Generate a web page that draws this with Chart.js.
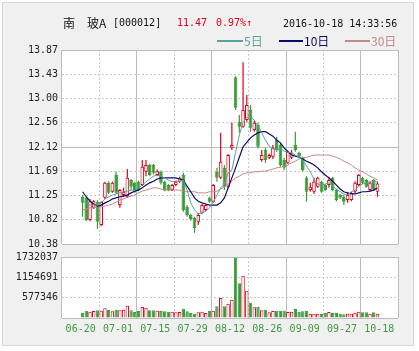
<!DOCTYPE html>
<html>
<head>
<meta charset="utf-8">
<script src="https://cdn.jsdelivr.net/npm/chart.js@4.4.0/dist/chart.umd.min.js"></script>
<style>
  html, body { margin: 0; padding: 0; background: #fff; }
  #frame { position: absolute; left: 2px; top: 2px; width: 410px; height: 342px; background: #f0f0f0; border: 1px solid #d6d6d6; }
  canvas { position: absolute; left: 0; top: 0; }
  .t { position: absolute; white-space: nowrap; font-family: "DejaVu Sans Mono", monospace; font-size: 10px; line-height: 12px; color: #111; }
  .cn { font-family: "Noto Sans CJK SC", sans-serif; font-size: 12px; line-height: 14px; }
  .red { color: #e0001a; }
  .lg { position: absolute; height: 2px; }
</style>
</head>
<body>
<div id="frame"></div>
<canvas id="price" width="419" height="351"></canvas>
<canvas id="volume" width="419" height="351"></canvas>

<div class="t cn" style="left:63px;top:16px;">南　玻A</div>
<div class="t" style="left:113px;top:17px;">[000012]</div>
<div class="t red" style="left:177px;top:17px;">11.47</div>
<div class="t red" style="left:216px;top:17px;">0.97%↑</div>
<div class="t" style="left:283px;top:18px;">2016-10-18 14:33:56</div>

<div class="lg" style="left:217px;top:40px;width:26px;background:#5aa39c;"></div>
<div class="t cn" style="left:244px;top:34px;color:#5aa39c;">5日</div>
<div class="lg" style="left:279px;top:40px;width:24px;background:#0b0b6b;"></div>
<div class="t cn" style="left:304px;top:34px;color:#0b0b6b;">10日</div>
<div class="lg" style="left:345px;top:40px;width:25px;background:#c48a86;"></div>
<div class="t cn" style="left:371px;top:34px;color:#c48a86;">30日</div>

<script>
// trading days 2016-06-20 .. 2016-10-18
const dates = [
  '06-20','06-21','06-22','06-23','06-24','06-27','06-28','06-29','06-30',
  '07-01','07-04','07-05','07-06','07-07','07-08','07-11','07-12','07-13','07-14','07-15',
  '07-18','07-19','07-20','07-21','07-22','07-25','07-26','07-27','07-28','07-29',
  '08-01','08-02','08-03','08-04','08-05','08-08','08-09','08-10','08-11','08-12',
  '08-15','08-16','08-17','08-18','08-19','08-22','08-23','08-24','08-25','08-26',
  '08-29','08-30','08-31','09-01','09-02','09-05','09-06','09-07','09-08','09-09',
  '09-12','09-13','09-14','09-19','09-20','09-21','09-22','09-23','09-26','09-27',
  '09-28','09-29','09-30','10-10','10-11','10-12','10-13','10-14','10-17','10-18'
];

const openP = [
  11.23,11.21,10.81,11.03,11.14,10.72,11.21,11.48,11.32,11.62,
  11.08,11.26,11.23,11.53,11.48,11.50,11.44,11.68,11.80,11.80,
  11.62,11.68,11.50,11.44,11.35,11.44,11.50,11.62,11.05,10.90,
  10.85,10.78,10.94,10.99,11.21,11.14,11.68,11.57,11.75,11.41,
  12.11,13.38,12.58,12.49,12.61,12.79,12.43,12.52,11.89,12.07,
  11.93,11.95,12.25,12.16,11.89,11.84,11.93,12.16,12.02,11.93,
  11.57,11.35,11.32,11.41,11.50,11.44,11.44,11.57,11.35,11.26,
  11.23,11.17,11.17,11.32,11.44,11.57,11.53,11.35,11.53,11.32
];
const highP = [
  11.26,11.23,11.19,11.17,11.17,11.15,11.50,11.51,11.50,11.68,
  11.37,11.39,11.73,11.55,11.50,11.52,11.89,11.89,11.83,11.82,
  11.72,11.70,11.52,11.46,11.46,11.52,11.59,11.66,11.08,10.92,
  10.87,10.94,11.10,11.10,11.23,11.46,11.75,12.38,11.80,12.00,
  12.56,13.40,12.70,13.65,13.06,12.88,12.60,12.56,12.07,12.11,
  12.01,12.16,12.31,12.20,11.93,12.06,12.07,12.40,12.04,11.95,
  11.60,11.48,11.57,11.59,11.52,11.46,11.59,11.59,11.37,11.28,
  11.26,11.30,11.32,11.51,11.64,11.59,11.55,11.50,11.55,11.50
];
const lowP = [
  10.87,10.79,10.79,11.01,10.65,10.70,11.19,11.28,11.30,11.28,
  11.03,11.23,11.21,11.35,11.30,11.33,11.42,11.60,11.60,11.63,
  11.60,11.45,11.33,11.33,11.33,11.42,11.48,10.96,10.87,10.80,
  10.58,10.72,10.92,10.97,11.12,11.12,11.50,11.55,11.35,11.38,
  12.07,12.79,12.38,12.47,12.58,12.40,12.40,12.10,11.86,11.84,
  11.91,11.91,12.04,11.77,11.71,11.82,11.91,12.04,11.93,11.69,
  11.14,11.32,11.28,11.39,11.30,11.33,11.39,11.33,11.15,11.19,
  11.08,11.12,11.15,11.28,11.42,11.46,11.39,11.33,11.34,11.23
];
const closeP = [
  11.12,10.81,11.15,11.15,10.78,11.14,11.48,11.30,11.48,11.30,
  11.35,11.32,11.57,11.41,11.32,11.35,11.77,11.80,11.62,11.66,
  11.69,11.48,11.35,11.35,11.44,11.50,11.57,10.99,10.90,10.83,
  10.67,10.90,11.08,11.08,11.14,11.44,11.57,11.86,11.41,11.98,
  12.16,12.83,12.49,12.79,12.88,12.47,12.56,12.13,11.98,11.89,
  11.98,12.11,12.07,11.80,11.75,12.04,12.02,12.07,11.95,11.71,
  11.32,11.41,11.50,11.57,11.32,11.35,11.53,11.35,11.17,11.21,
  11.14,11.26,11.30,11.48,11.62,11.48,11.41,11.48,11.36,11.47
];

const ma5 = [
  11.17,11.12,11.08,11.08,11.08,11.12,11.19,11.23,11.26,11.28,
  11.30,11.32,11.33,11.35,11.35,11.39,11.44,11.50,11.55,11.60,
  11.62,11.60,11.57,11.53,11.50,11.51,11.51,11.53,11.35,11.12,
  10.99,10.92,10.94,10.97,11.03,11.13,11.26,11.39,11.46,11.66,
  11.71,12.03,12.34,12.57,12.66,12.66,12.61,12.50,12.38,12.25,
  12.14,12.09,12.07,12.09,12.05,12.03,12.02,11.98,11.94,11.89,
  11.78,11.68,11.55,11.46,11.44,11.46,11.48,11.42,11.37,11.32,
  11.28,11.26,11.32,11.35,11.42,11.46,11.48,11.50,11.50,11.50
];
const ma10 = [
  11.32,11.23,11.15,11.10,11.06,11.08,11.12,11.15,11.19,11.21,
  11.23,11.24,11.26,11.30,11.33,11.35,11.39,11.44,11.48,11.51,
  11.55,11.57,11.57,11.57,11.57,11.57,11.55,11.53,11.42,11.32,
  11.21,11.15,11.12,11.10,11.08,11.08,11.08,11.12,11.21,11.39,
  11.57,11.75,11.94,12.13,12.21,12.29,12.34,12.38,12.40,12.40,
  12.36,12.32,12.25,12.20,12.11,12.04,11.98,11.96,11.94,11.91,
  11.87,11.84,11.80,11.75,11.68,11.62,11.57,11.51,11.44,11.37,
  11.32,11.30,11.28,11.28,11.30,11.32,11.32,11.33,11.35,11.39
];
const ma30 = [
  10.99,11.01,11.03,11.03,11.05,11.05,11.06,11.08,11.10,11.13,
  11.17,11.19,11.22,11.24,11.26,11.30,11.33,11.35,11.37,11.39,
  11.39,11.37,11.35,11.35,11.35,11.35,11.35,11.33,11.32,11.32,
  11.32,11.30,11.30,11.30,11.32,11.32,11.33,11.37,11.41,11.46,
  11.51,11.57,11.60,11.64,11.66,11.66,11.68,11.68,11.69,11.69,
  11.71,11.73,11.75,11.76,11.78,11.80,11.84,11.87,11.91,11.93,
  11.94,11.96,11.98,11.98,11.98,11.98,11.98,11.96,11.94,11.91,
  11.87,11.84,11.80,11.75,11.71,11.68,11.64,11.60,11.57,11.53
];

const volume = [
  150000,207000,179000,198000,217000,207000,274000,226000,189000,236000,
  217000,236000,349000,217000,170000,198000,311000,292000,217000,217000,
  207000,198000,189000,179000,179000,160000,170000,264000,189000,142000,
  122000,160000,179000,142000,207000,207000,331000,566000,331000,405000,
  518000,1720000,990000,1200000,773000,443000,302000,321000,217000,236000,
  160000,198000,207000,207000,207000,170000,179000,255000,179000,189000,
  207000,122000,122000,122000,122000,150000,170000,142000,142000,122000,
  104000,122000,122000,150000,179000,160000,160000,122000,160000,122000
];

const xTickLabels = ['06-20','07-01','07-15','07-29','08-12','08-26','09-09','09-27','10-18'];
const priceTicks = [10.38, 10.82, 11.25, 11.69, 12.12, 12.56, 13.00, 13.43, 13.87];
const volumeTicks = [0, 577346, 1154691, 1732037];

const RED = '#e0001a';
const GREEN = '#3a9a3a';
const GRID_SOLID = '#bcbcbc';
const GRID_DASH = '#c8c8c8';
const tickFont = { family: 'DejaVu Sans Mono', size: 10 };

const up = closeP.map((c, i) => c >= openP[i]);

// white plot area
const plotBg = {
  id: 'plotBg',
  beforeDraw(chart) {
    const a = chart.chartArea, c = chart.ctx;
    c.save();
    c.fillStyle = '#fff';
    c.fillRect(a.left, a.top, a.right - a.left, a.bottom - a.top);
    c.restore();
  }
};

// every other vertical line is solid
function xSolid(ctx) {
  return !ctx.tick || ctx.tick.value % 20 === 0;
}
function priceSolid(ctx) {
  return !ctx.tick || ctx.index === 0 || ctx.index === 4 || ctx.index === priceTicks.length - 1;
}
function volSolid(ctx) {
  return !ctx.tick || ctx.index === 0 || ctx.index === volumeTicks.length - 1;
}

function xScale(showLabels) {
  return {
    type: 'linear',
    min: 0,
    max: 80,
    afterBuildTicks: ax => { ax.ticks = xTickLabels.map((_, k) => ({ value: k * 10 })); },
    afterFit: ax => { ax.height = showLabels ? 33 : 0; },
    ticks: {
      display: showLabels,
      autoSkip: false,
      maxRotation: 0,
      padding: 5,
      font: tickFont,
      color: '#3f9a3f',
      callback: v => xTickLabels[Math.round(v / 10)]
    },
    grid: { drawTicks: false, color: ctx => xSolid(ctx) ? GRID_SOLID : GRID_DASH },
    border: { display: false, dash: ctx => xSolid(ctx) ? [] : [2, 2] }
  };
}

new Chart(document.getElementById('price'), {
  type: 'bar',
  data: {
    datasets: [
      {
        type: 'line', label: '5日', order: 0,
        data: ma5.map((v, i) => ({ x: i + 0.5, y: v })),
        borderColor: '#5aa39c', borderWidth: 1, pointRadius: 0
      },
      {
        type: 'line', label: '10日', order: 0,
        data: ma10.map((v, i) => ({ x: i + 0.5, y: v })),
        borderColor: '#0b0b6b', borderWidth: 1.2, pointRadius: 0
      },
      {
        type: 'line', label: '30日', order: 0,
        data: ma30.map((v, i) => ({ x: i + 0.5, y: v })),
        borderColor: '#c48a86', borderWidth: 1, pointRadius: 0
      },
      {
        label: 'body', order: 1,
        data: openP.map((o, i) => ({ x: i + 0.5, y: [o, closeP[i]] })),
        backgroundColor: up.map(u => u ? '#ffffff' : GREEN),
        borderColor: up.map(u => u ? RED : GREEN),
        borderWidth: 1, borderSkipped: false, inflateAmount: 0,
        grouped: false, barThickness: 3.6, maxBarThickness: 3.6
      },
      {
        label: 'wick', order: 2,
        data: lowP.map((l, i) => ({ x: i + 0.5, y: [l, highP[i]] })),
        backgroundColor: up.map(u => u ? RED : GREEN),
        borderWidth: 0, inflateAmount: 0,
        grouped: false, barThickness: 1.2, maxBarThickness: 1.2
      }
    ]
  },
  options: {
    responsive: false,
    animation: false,
    layout: { padding: { left: 0, right: 21, top: 50, bottom: 107 } },
    plugins: { legend: { display: false }, tooltip: { enabled: false } },
    scales: {
      x: xScale(false),
      y: {
        min: 10.38,
        max: 13.87,
        afterBuildTicks: ax => { ax.ticks = priceTicks.map(v => ({ value: v })); },
        afterFit: ax => { ax.width = 62; },
        ticks: { font: tickFont, color: '#222', padding: 4, callback: v => v.toFixed(2) },
        grid: { drawTicks: false, color: ctx => priceSolid(ctx) ? GRID_SOLID : GRID_DASH },
        border: { display: false, dash: ctx => priceSolid(ctx) ? [] : [2, 2] }
      }
    }
  },
  plugins: [plotBg]
});

new Chart(document.getElementById('volume'), {
  type: 'bar',
  data: {
    datasets: [{
      label: 'volume',
      data: volume.map((v, i) => ({ x: i + 0.5, y: v })),
      backgroundColor: up.map(u => u ? '#ffffff' : GREEN),
      borderColor: up.map(u => u ? RED : GREEN),
      borderWidth: 1, borderSkipped: 'start', inflateAmount: 0,
      grouped: false, barThickness: 3.4, maxBarThickness: 3.4
    }]
  },
  options: {
    responsive: false,
    animation: false,
    layout: { padding: { left: 0, right: 21, top: 257, bottom: 0 } },
    plugins: { legend: { display: false }, tooltip: { enabled: false } },
    scales: {
      x: xScale(true),
      y: {
        min: 0,
        max: 1732037,
        afterBuildTicks: ax => { ax.ticks = volumeTicks.map(v => ({ value: v })); },
        afterFit: ax => { ax.width = 62; },
        ticks: { font: tickFont, color: '#222', padding: 4, callback: v => v === 0 ? '' : String(v) },
        grid: { drawTicks: false, color: ctx => volSolid(ctx) ? GRID_SOLID : GRID_DASH },
        border: { display: false, dash: ctx => volSolid(ctx) ? [] : [2, 2] }
      }
    }
  },
  plugins: [plotBg]
});
</script>
</body>
</html>
